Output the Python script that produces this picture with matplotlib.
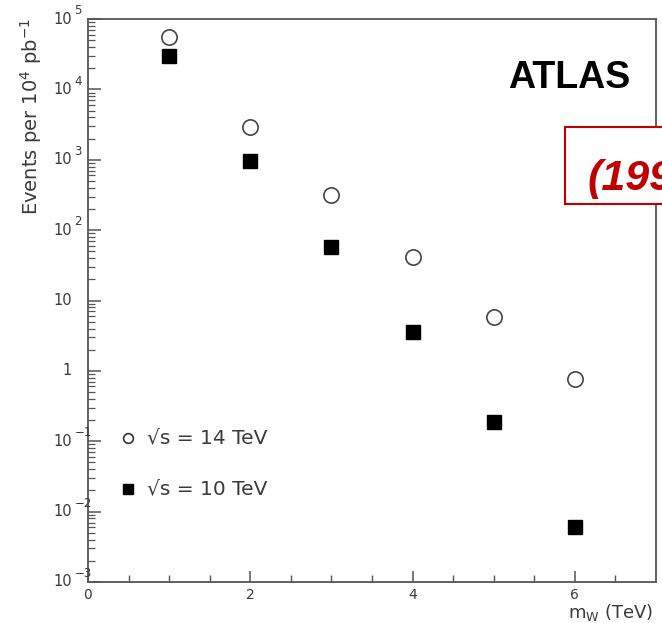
import matplotlib
matplotlib.use("Agg")
import matplotlib.pyplot as plt
import matplotlib.transforms as mtransforms
from matplotlib.patches import Rectangle
import numpy as np

# ---------------- data ----------------
mass_tev = [1, 2, 3, 4, 5, 6]
events_14tev = [5.5e4, 2.9e3, 318, 42, 5.8, 0.77]
events_10tev = [3.0e4, 960, 58, 3.6, 0.19, 0.0061]

x_ticks = [0, 2, 4, 6]
x_tick_labels = ["0", "2", "4", "6"]
y_ticks = [1e5, 1e4, 1e3, 1e2, 10, 1, 1e-1, 1e-2, 1e-3]
y_tick_bases = ["10", "10", "10", "10", "10", "1", "10", "10", "10"]
y_tick_exps = ["5", "4", "3", "2", "", "", "\u22121", "\u22122", "\u22123"]

legend_labels = ["\u221as = 14 TeV", "\u221as = 10 TeV"]

# ---------------- style ----------------
plt.rcParams["font.family"] = ["DejaVu Sans"]
plt.rcParams["mathtext.fontset"] = "dejavusans"
W, H = 662, 623
fig = plt.figure(figsize=(W / 100, H / 100), dpi=100)
txt = "#3a3a3a"
spine_c = "#555555"

L, R, B, T = 88, 656, 582, 19
ax = fig.add_axes([L / W, 1 - B / H, (R - L) / W, (B - T) / H])
ax.set_yscale("log")
ax.set_xlim(0, 7)
ax.set_ylim(1e-3, 1e5)

for s in ax.spines.values():
    s.set_color(spine_c)
    s.set_linewidth(1.3)

ax.plot(mass_tev, events_14tev, linestyle="none", marker="o", markersize=11,
        markerfacecolor="white", markeredgecolor="#444444", markeredgewidth=1.2)
ax.plot(mass_tev, events_10tev, linestyle="none", marker="s", markersize=10,
        markerfacecolor="black", markeredgecolor="black")

# x ticks
ax.set_xticks(x_ticks)
ax.set_xticklabels(x_tick_labels)
ax.set_xticks(np.arange(0.5, 7.0, 0.5), minor=True)
ax.tick_params(axis="x", which="major", direction="in", length=8, width=1.1,
               color=spine_c, labelsize=10, labelcolor=txt, pad=4,
               top=False)
ax.tick_params(axis="x", which="minor", direction="in", length=5, width=1.0,
               color=spine_c, top=False)

# y ticks
ax.set_yticks(y_ticks)
ax.yaxis.set_minor_locator(matplotlib.ticker.LogLocator(base=10, subs=np.arange(2, 10), numticks=20))
ax.yaxis.set_minor_formatter(matplotlib.ticker.NullFormatter())
ax.tick_params(axis="y", which="major", direction="in", length=9, width=1.1,
               color=spine_c, labelleft=False, right=False)
ax.tick_params(axis="y", which="minor", direction="in", length=5, width=0.9,
               color=spine_c, right=False)

ytrans = ax.get_yaxis_transform()
exp_trans = mtransforms.offset_copy(ytrans, fig=fig, x=0, y=6, units="points")
base_x = (72 - L) / (R - L)
exp_x = (74.5 - L) / (R - L)
for yv, b, e in zip(y_ticks, y_tick_bases, y_tick_exps):
    ax.text(base_x, yv, b, transform=ytrans, ha="right", va="center",
            fontsize=10.5, color=txt, clip_on=False)
    if e:
        ax.text(exp_x, yv, e, transform=exp_trans, ha="left", va="center",
                fontsize=8.5, color=txt, clip_on=False)

# legend (drawn manually)
leg_y = [(B - 438) / (B - T), (B - 489) / (B - T)]
mx = (128 - L) / (R - L)
tx = (147 - L) / (R - L)
ax.plot([mx], [leg_y[0]], transform=ax.transAxes, marker="o", markersize=7,
        markerfacecolor="white", markeredgecolor="#333333", markeredgewidth=1.2,
        linestyle="none", clip_on=False)
ax.plot([mx], [leg_y[1]], transform=ax.transAxes, marker="s", markersize=6.5,
        markerfacecolor="black", markeredgecolor="black", linestyle="none",
        clip_on=False)
for yy, lab in zip(leg_y, legend_labels):
    ax.text(tx, yy, lab, transform=ax.transAxes, ha="left", va="center",
            fontsize=14.5, color=txt)

# axis labels
fig.text(31 / W, 1 - 116 / H, "Events per 10$^{4}$ pb$^{-1}$", rotation=90,
         ha="center", va="center", fontsize=14, color=txt)
fig.text(653 / W, 1 - 618 / H, "m$_{\\mathrm{W}}$ (TeV)", ha="right",
         va="baseline", fontsize=13, color=txt)

# ATLAS label
fig.text(630 / W, 1 - 88 / H, "ATLAS", ha="right", va="baseline",
         fontsize=27, fontweight="bold", color="black",
         family=["Liberation Sans", "DejaVu Sans"])

# red year box (cut off at right edge)
red = "#c00000"
box = Rectangle((565 / W, 1 - 204 / H), 140 / W, 77 / H, transform=fig.transFigure,
                facecolor="white", edgecolor=red, linewidth=1.5, zorder=5)
fig.add_artist(box)
yr = fig.text(587 / W, 1 - 190 / H, "(1994)", ha="left", va="baseline",
              fontsize=31, fontweight="bold", fontstyle="italic", color=red,
              family=["Liberation Sans", "DejaVu Sans"])
yr.set_zorder(6)

fig.savefig("out.png", dpi=100)
